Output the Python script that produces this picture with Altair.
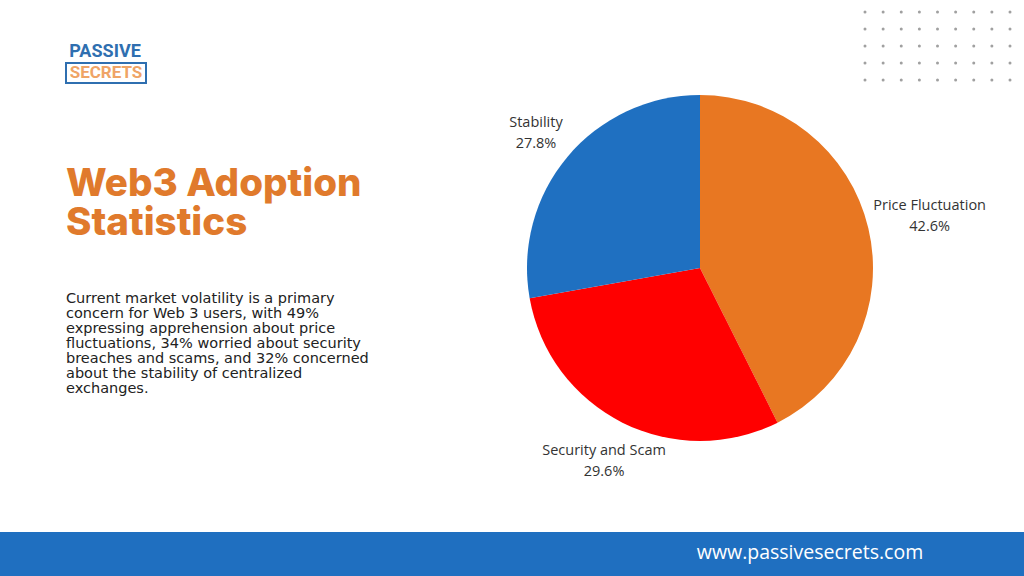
import altair as alt
import pandas as pd

# ---- data ----
labels = ["Price Fluctuation", "Security and Scam", "Stability"]
values = [42.6, 29.6, 27.8]
colors = ["#E87722", "#FF0000", "#1F70C1"]

title_lines = ["Web3 Adoption", "Statistics"]
body_lines = [
    "Current market volatility is a primary",
    "concern for Web 3 users, with 49%",
    "expressing apprehension about price",
    "fluctuations, 34% worried about security",
    "breaches and scams, and 32% concerned",
    "about the stability of centralized",
    "exchanges.",
]
dot_cols = list(range(9))
dot_rows = list(range(5))
footer_text = "www.passivesecrets.com"

pie_df = pd.DataFrame({"label": labels, "value": values, "idx": list(range(len(labels)))})
dots_df = pd.DataFrame([{"c": c, "r": r} for r in dot_rows for c in dot_cols])
one = pd.DataFrame({"a": [0]})

CX, CY, R = 700, 268, 173

pie = alt.Chart(pie_df).mark_arc(radius=R).encode(
    theta=alt.Theta("value:Q", stack=True),
    order=alt.Order("idx:Q"),
    color=alt.Color("label:N", scale=alt.Scale(domain=labels, range=colors), legend=None),
    x=alt.value(CX), y=alt.value(CY),
)

pie_labels = alt.Chart(pie_df).transform_joinaggregate(
    total="sum(value)"
).transform_window(
    cum="sum(value)", sort=[alt.SortField("idx")], frame=[None, 0]
).transform_calculate(
    ang="(datum.cum - datum.value / 2) / datum.total * 2 * PI",
    lr="datum.label == 'Price Fluctuation' ? 236 : 214",
).transform_calculate(
    px=f"{CX} + datum.lr * sin(datum.ang)",
    py=f"{CY} - datum.lr * cos(datum.ang)",
    txt="datum.label + '|' + format(datum.value, '.1f') + '%'",
).mark_text(lineBreak="|", lineHeight=21, fontSize=14.5, font="Open Sans", color="#333333", dy=-8).encode(
    x=alt.X("px:Q", scale=None),
    y=alt.Y("py:Q", scale=None),
    text="txt:N",
)

footer = alt.Chart(one).mark_rect(color="#1F6FC0").encode(
    x=alt.value(0), x2=alt.value(1024), y=alt.value(532), y2=alt.value(576)
)
footer_t = alt.Chart(one).mark_text(
    text=footer_text, color="white", fontSize=19.5, font="Open Sans", align="center", baseline="middle"
).encode(x=alt.value(810), y=alt.value(553))

dots = alt.Chart(dots_df).mark_circle(color="#A0A0A0", size=9, opacity=1).encode(
    x=alt.X("c:Q", scale=alt.Scale(domain=[0, 8], range=[865, 1010]), axis=None),
    y=alt.Y("r:Q", scale=alt.Scale(domain=[0, 4], range=[12, 80]), axis=None),
)

logo_box = alt.Chart(one).mark_rect(fill="white", stroke="#2F6FB0", strokeWidth=2).encode(
    x=alt.value(66), x2=alt.value(146), y=alt.value(63), y2=alt.value(83)
)
logo1 = alt.Chart(one).mark_text(
    text="PASSIVE", color="#2F6FB0", fontSize=18, fontWeight="bold", font="Roboto", align="center", baseline="middle"
).encode(x=alt.value(105), y=alt.value(52))
logo2 = alt.Chart(one).mark_text(
    text="SECRETS", color="#EFA466", fontSize=17, fontWeight="bold", font="Roboto", align="center", baseline="middle"
).encode(x=alt.value(106), y=alt.value(73))

title_df = pd.DataFrame({"t": title_lines, "i": list(range(len(title_lines)))})
title = alt.Chart(title_df).mark_text(
    color="#E07A2C", fontSize=38.5, fontWeight=800, font="Inter", align="left", baseline="alphabetic"
).encode(
    text="t:N",
    x=alt.value(66),
    y=alt.Y("i:Q", scale=alt.Scale(domain=[0, 1], range=[196, 235]), axis=None),
)

body_df = pd.DataFrame({"t": body_lines, "i": list(range(len(body_lines)))})
body = alt.Chart(body_df).mark_text(
    color="#222222", fontSize=14.5, font="DejaVu Sans", align="left", baseline="alphabetic"
).encode(
    text="t:N",
    x=alt.value(66),
    y=alt.Y("i:Q", scale=alt.Scale(domain=[0, 6], range=[303, 393]), axis=None),
)

chart = alt.layer(
    footer, footer_t, dots, logo_box, logo1, logo2, pie
).resolve_scale(x="independent", y="independent")

chart = alt.layer(chart, pie_labels, title, body).resolve_scale(x="independent", y="independent").properties(
    width=1024, height=576, autosize=alt.AutoSizeParams(type="none"), padding=0, background="white"
).configure_view(stroke=None)

chart.save("out.html", embed_options={"renderer": "svg", "actions": False})
